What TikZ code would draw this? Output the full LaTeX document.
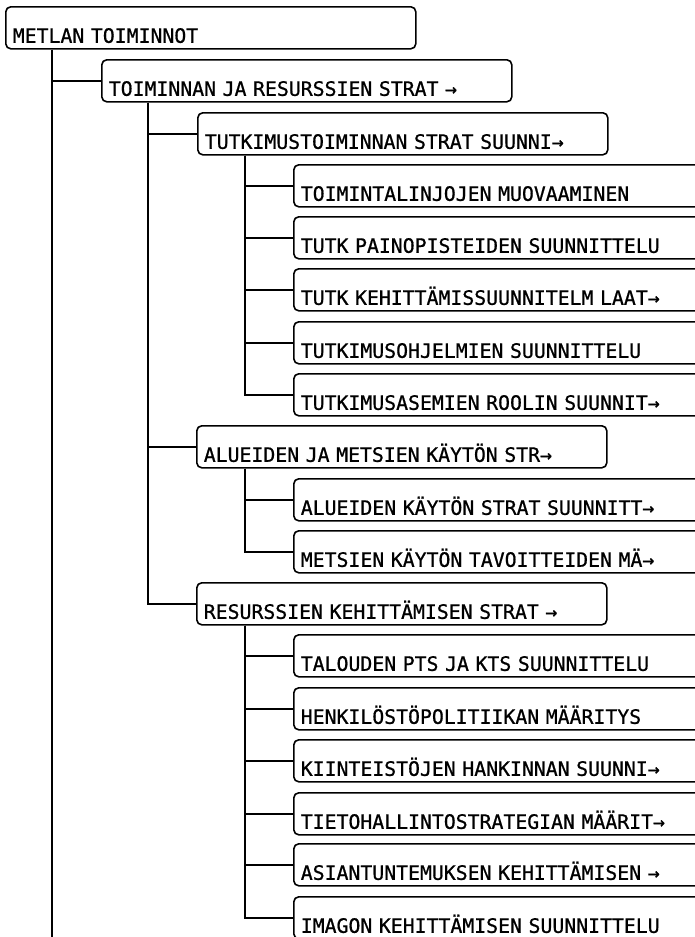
\documentclass[tikz,border=0pt]{standalone}
\usepackage{fontspec}
\newfontfamily\plotfont[FakeBold=0.8]{DejaVu Sans Mono}
\tikzset{
  box/.style={draw, line width=1.6pt, rounded corners=5pt, anchor=north west,
    inner xsep=7pt, inner ysep=0pt, text height=36pt, text depth=6pt, align=left,
    font=\plotfont\fontsize{19.8pt}{20pt}\selectfont},
  midbox/.style={box, text width=396pt},
  leafbox/.style={box, text width=440pt},
  link/.style={line width=1.6pt}
}
\begin{document}
\begin{tikzpicture}[x=1pt,y=-1pt]
\useasboundingbox (0,0) rectangle (695,937);
\clip (0,0) rectangle (695,937);
% level 0
\node[midbox] (m) at (5,6) {METLAN TOIMINNOT};
% level 1
\node[midbox] (tr) at (101,59) {TOIMINNAN JA RESURSSIEN STRAT →};
% level 2
\node[midbox] (ts) at (197,112) {TUTKIMUSTOIMINNAN STRAT SUUNNI→};
\node[midbox] (al) at (196,425) {ALUEIDEN JA METSIEN KÄYTÖN STR→};
\node[midbox] (rs) at (196,582) {RESURSSIEN KEHITTÄMISEN STRAT →};
% leaves of ts
\node[leafbox] (a1) at (293,164) {TOIMINTALINJOJEN MUOVAAMINEN};
\node[leafbox] (a2) at (293,216) {TUTK PAINOPISTEIDEN SUUNNITTELU};
\node[leafbox] (a3) at (293,268) {TUTK KEHITTÄMISSUUNNITELM LAAT→};
\node[leafbox] (a4) at (293,321) {TUTKIMUSOHJELMIEN SUUNNITTELU};
\node[leafbox] (a5) at (293,373) {TUTKIMUSASEMIEN ROOLIN SUUNNIT→};
% leaves of al
\node[leafbox] (b1) at (293,478) {ALUEIDEN KÄYTÖN STRAT SUUNNITT→};
\node[leafbox] (b2) at (293,530) {METSIEN KÄYTÖN TAVOITTEIDEN MÄ→};
% leaves of rs
\node[leafbox] (c1) at (293,634) {TALOUDEN PTS JA KTS SUUNNITTELU};
\node[leafbox] (c2) at (293,687) {HENKILÖSTÖPOLITIIKAN MÄÄRITYS};
\node[leafbox] (c3) at (293,739) {KIINTEISTÖJEN HANKINNAN SUUNNI→};
\node[leafbox] (c4) at (293,792) {TIETOHALLINTOSTRATEGIAN MÄÄRIT→};
\node[leafbox] (c5) at (293,843) {ASIANTUNTEMUKSEN KEHITTÄMISEN →};
\node[leafbox] (c6) at (293,896) {IMAGON KEHITTÄMISEN SUUNNITTELU};
% connectors
\coordinate (mend) at (52,945);
\draw[link] ([xshift=47pt]m.south west) -- (mend);
\draw[link] ([xshift=47pt]m.south west) |- (tr.west);
\foreach \c in {ts,al,rs}
  \draw[link] ([xshift=47pt]tr.south west) |- (\c.west);
\foreach \c in {a1,a2,a3,a4,a5}
  \draw[link] ([xshift=48pt]ts.south west) |- (\c.west);
\foreach \c in {b1,b2}
  \draw[link] ([xshift=49pt]al.south west) |- (\c.west);
\foreach \c in {c1,c2,c3,c4,c5,c6}
  \draw[link] ([xshift=49pt]rs.south west) |- (\c.west);
\end{tikzpicture}
\end{document}
